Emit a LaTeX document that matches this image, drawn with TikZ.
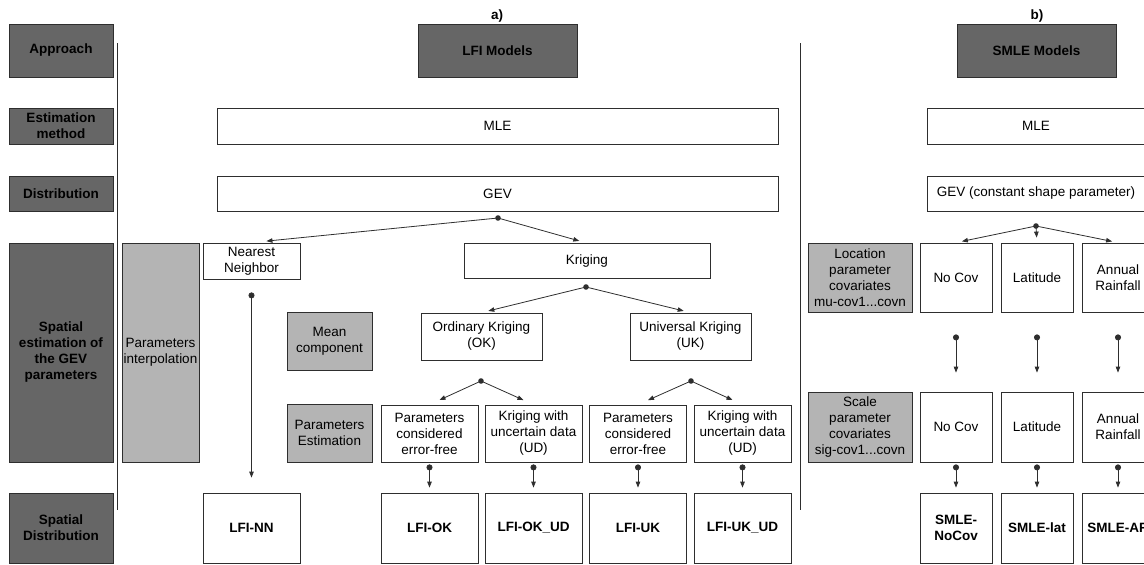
\documentclass[tikz,border=0pt]{standalone}
\usepackage{fontspec}
\setmainfont{Liberation Sans}
\usepackage{xcolor}
\usetikzlibrary{arrows.meta}
\definecolor{cHeadF}{HTML}{666666}
\definecolor{cSideF}{HTML}{B4B4B4}
\definecolor{cLine}{HTML}{2E2E2E}

\begin{document}
\begin{tikzpicture}[x=1pt,y=-1pt,
  bx/.style={draw=cLine,fill=white,line width=0.8pt,align=center,inner sep=1pt,
    font=\fontsize{13.5}{16}\selectfont,text=black},
  hd/.style={bx,fill=cHeadF,font=\bfseries\fontsize{13.5}{16}\selectfont},
  gr/.style={bx,fill=cSideF},
  rs/.style={bx,font=\bfseries\fontsize{13.5}{16}\selectfont},
  lbl/.style={font=\bfseries\fontsize{13.5}{16}\selectfont,inner sep=0pt},
  cn/.style={-{Triangle[length=6pt,width=4.5pt]},line width=0.8pt,draw=cLine},
  cnd/.style={cn,{Circle[length=6pt]}-{Triangle[length=6pt,width=4.5pt]}}]

  \useasboundingbox (0,0) rectangle (1144,565);
  \clip (0,0) rectangle (1144,565);

  % row headers
  \foreach \n/\y/\h/\t in {appr/50.5/53/Approach, estm/126/36/{Estimation\\method},
    dist/193.5/35/Distribution, spat/352.5/219/{Spatial\\estimation of\\the GEV\\parameters},
    sdist/528/70/{Spatial\\Distribution}}
    {\node[hd,minimum width=104,minimum height=\h] (\n) at (61,\y) {\t};}

  \foreach \n/\x/\t in {lfi/497.5/LFI Models, smle/1036.5/SMLE Models}
    {\node[hd,minimum width=159,minimum height=53] (\n) at (\x,50.5) {\t};}
  \node[lbl] (la) at (497,16) {a)};
  \node[lbl] (lb) at (1037,16) {b)};

  % grey side boxes
  \foreach \n/\x/\y/\w/\h/\t in {interp/160.5/352.5/77/219/{Parameters\\interpolation},
    mean/329.5/341/85/58/{Mean\\component}, pest/329.5/433/85/58/{Parameters\\Estimation}}
    {\node[gr,minimum width=\w,minimum height=\h] (\n) at (\x,\y) {\t};}
  \node[gr,minimum width=104,minimum height=69] (locv) at (860,277.5)
    {Location\\parameter\\covariates\\mu-cov1...covn};
  \node[gr,minimum width=104,minimum height=70] (sclv) at (860,427)
    {Scale\\parameter\\covariates\\sig-cov1...covn};

  % white boxes
  \foreach \n/\x/\y/\w/\h/\t in {mleA/497.5/126/561/36/MLE, gevA/497.5/193.5/561/35/GEV,
    nn/251.5/261/97/36/{Nearest\\Neighbor}, krig/587/261/246/35/Kriging,
    ok/481.5/336.5/121/47/{Ordinary Kriging\\(OK)}, uk/690.5/336.5/121/47/{Universal Kriging\\(UK)},
    okf/429.5/433.5/97/57/{Parameters\\considered\\error-free}, oku/533.5/433.5/97/57/{Kriging with\\uncertain data\\(UD)},
    ukf/638/433.5/97/57/{Parameters\\considered\\error-free}, uku/742.5/433.5/97/57/{Kriging with\\uncertain data\\(UD)},
    mleB/1036/126/218/36/MLE, gevB/1036/193.5/218/35/{GEV (constant shape parameter)},
    ncA/956/277.5/72/69/No Cov, latA/1037/277.5/72/69/Latitude, arA/1118/277.5/72/69/{Annual\\Rainfall},
    ncB/956/427/72/70/No Cov, latB/1037/427/72/70/Latitude, arB/1118/427/72/70/{Annual\\Rainfall}}
    {\node[bx,minimum width=\w,minimum height=\h] (\n) at (\x,\y) {\t};}

  % resulting models
  \foreach \n/\x/\w/\t in {nnR/251.5/97/LFI-NN, okR/429.5/97/LFI-OK, okuR/533.5/97/LFI-OK\_UD,
    ukR/638/97/LFI-UK, ukuR/742.5/97/LFI-UK\_UD,
    ncR/956/72/{SMLE-\\NoCov}, latR/1037/72/SMLE-lat, arR/1118/72/SMLE-AR}
    {\node[rs,minimum width=\w,minimum height=70] (\n) at (\x,528) {\t};}

  % separators
  \draw[line width=0.8pt,draw=cLine] (117,43) -- (117,510);
  \draw[line width=0.8pt,draw=cLine] (800.5,43) -- (800.5,510);

  % forks
  \coordinate (fgA) at (498,218);
  \coordinate (fkr) at (586,287);
  \coordinate (fok) at (481,381);
  \coordinate (fuk) at (691,381);
  \coordinate (fgB) at (1036,226);
  \foreach \c in {fgA,fkr,fok,fuk,fgB}
    {\fill[cLine] (\c) circle (2.8);}
  \foreach \a/\b/\s in {fgA/nn/15, fgA/krig/8, fkr/ok/7, fkr/uk/7, fok/okf/11, fok/oku/11,
    fuk/ukf/11, fuk/uku/11, fgB/ncA/6, fgB/latA/5, fgB/arA/6}
    {\draw[cn,shorten >=\s] (\a) -- (\b.north);}

  \foreach \a/\b/\s/\e in {nn/nnR/13/15, okf/okR/2/5, oku/okuR/2/5, ukf/ukR/2/5, uku/ukuR/2/5,
    ncA/ncB/22/19, latA/latB/22/19, arA/arB/22/19, ncB/ncR/2/5, latB/latR/2/5, arB/arR/2/5}
    {\draw[cnd,shorten <=\s,shorten >=\e] (\a.south) -- (\b.north);}
\end{tikzpicture}
\end{document}
